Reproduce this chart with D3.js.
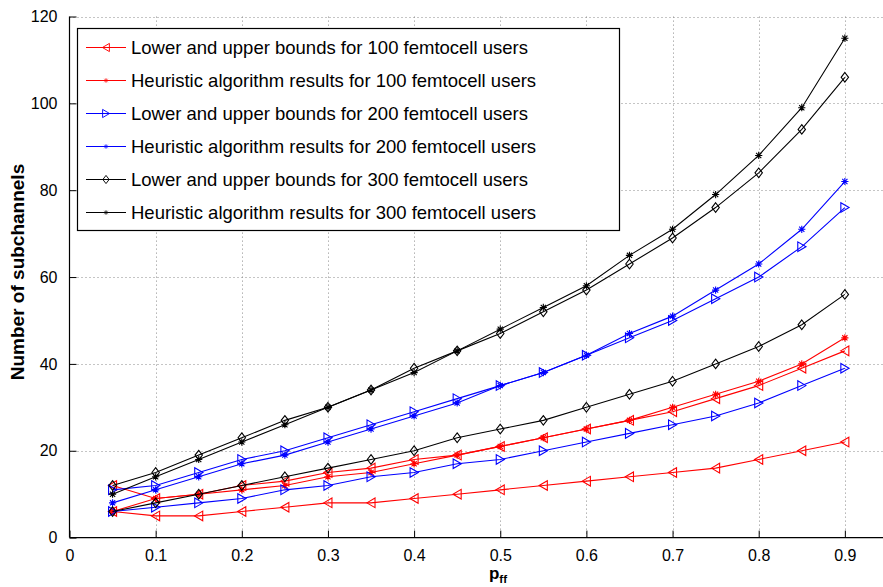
<!DOCTYPE html>
<html>
<head>
<meta charset="utf-8">
<script src="https://cdn.jsdelivr.net/npm/d3@7"></script>
<style>
  html, body { margin: 0; padding: 0; background: #fff; }
  svg { display: block; font-family: "Liberation Sans", Arial, Helvetica, sans-serif; }
</style>
</head>
<body>
<svg id="chart" width="883" height="587"></svg>
<script>
// Probability of femto-to-femto interference (x axis)
const pff = [0.05, 0.1, 0.15, 0.2, 0.25, 0.3, 0.35, 0.4, 0.45, 0.5, 0.55, 0.6, 0.65, 0.7, 0.75, 0.8, 0.85, 0.9];

// 100 femtocell users
const lower100 = [6, 5, 5, 6, 7, 8, 8, 9, 10, 11, 12, 13, 14, 15, 16, 18, 20, 22];
const upper100 = [12, 9, 10, 12, 13, 15, 16, 18, 19, 21, 23, 25, 27, 29, 32, 35, 39, 43];
const heuristic100 = [6, 9, 10, 11, 12, 14, 15, 17, 19, 21, 23, 25, 27, 30, 33, 36, 40, 46];

// 200 femtocell users
const lower200 = [6, 7, 8, 9, 11, 12, 14, 15, 17, 18, 20, 22, 24, 26, 28, 31, 35, 39];
const upper200 = [11, 12, 15, 18, 20, 23, 26, 29, 32, 35, 38, 42, 46, 50, 55, 60, 67, 76];
const heuristic200 = [8, 11, 14, 17, 19, 22, 25, 28, 31, 35, 38, 42, 47, 51, 57, 63, 71, 82];

// 300 femtocell users
const lower300 = [6, 8, 10, 12, 14, 16, 18, 20, 23, 25, 27, 30, 33, 36, 40, 44, 49, 56];
const upper300 = [12, 15, 19, 23, 27, 30, 34, 39, 43, 47, 52, 57, 63, 69, 76, 84, 94, 106];
const heuristic300 = [10, 14, 18, 22, 26, 30, 34, 38, 43, 48, 53, 58, 65, 71, 79, 88, 99, 115];

const xTicks = [0, 0.1, 0.2, 0.3, 0.4, 0.5, 0.6, 0.7, 0.8, 0.9];
const yTicks = [0, 20, 40, 60, 80, 100, 120];

const legendLabels = [
  "Lower and upper bounds for 100 femtocell users",
  "Heuristic algorithm results for 100 femtocell users",
  "Lower and upper bounds for 200 femtocell users",
  "Heuristic algorithm results for 200 femtocell users",
  "Lower and upper bounds for 300 femtocell users",
  "Heuristic algorithm results for 300 femtocell users"
];

// Each series: colour, marker and one or more lines
const series = [
  { color: "#ff0000", marker: "triLeft", lines: [lower100, upper100] },
  { color: "#ff0000", marker: "star", lines: [heuristic100] },
  { color: "#0000ff", marker: "triRight", lines: [lower200, upper200] },
  { color: "#0000ff", marker: "star", lines: [heuristic200] },
  { color: "#000000", marker: "diamond", lines: [lower300, upper300] },
  { color: "#000000", marker: "star", lines: [heuristic300] }
];

const W = 883, H = 587;
const svg = d3.select("#chart");

const x = d3.scaleLinear().domain([0, 1]).range([69.5, 931]);
const y = d3.scaleLinear().domain([0, 120]).range([537.6, 16.5]);

// Marker shapes as path strings centred at origin
const markerPath = {
  triLeft: "M-4.2,0L4,-4.8L4,4.8Z",
  triRight: "M4.2,0L-4,-4.8L-4,4.8Z",
  diamond: "M0,-4.8L3.7,0L0,4.8L-3.7,0Z",
  star: "M-3.6,0H3.6M0,-3.6V3.6M-2.6,-2.6L2.6,2.6M-2.6,2.6L2.6,-2.6"
};

// Grid lines (dotted)
const grid = svg.append("g").attr("stroke", "#8a8a8a").attr("stroke-width", 1)
  .attr("stroke-dasharray", "1,3");
grid.selectAll(".gx").data(xTicks.filter(d => d > 0)).join("line")
  .attr("x1", d => Math.round(x(d)) + 0.5).attr("x2", d => Math.round(x(d)) + 0.5)
  .attr("y1", y(0)).attr("y2", y(120));
grid.selectAll(".gy").data(yTicks.filter(d => d > 0)).join("line")
  .attr("x1", x(0)).attr("x2", W)
  .attr("y1", d => Math.round(y(d)) + 0.5).attr("y2", d => Math.round(y(d)) + 0.5);

// Axes
const xAxis = d3.axisBottom(x).tickValues(xTicks).tickSizeInner(-7).tickSizeOuter(0)
  .tickPadding(12).tickFormat(d => d === 0 ? "0" : d3.format(".1f")(d));
const gx = svg.append("g").attr("transform", `translate(0,${y(0)})`).call(xAxis);
gx.select(".domain").remove();
gx.append("line").attr("x1", x(0)).attr("x2", W).attr("y1", 0).attr("y2", 0)
  .attr("stroke", "#000").attr("stroke-width", 1.2);
gx.selectAll("text").attr("font-size", 16).attr("fill", "#000")
  .attr("font-family", "'Liberation Sans', Arial, sans-serif");

const yAxis = d3.axisLeft(y).tickValues(yTicks).tickSizeInner(-7).tickSizeOuter(0).tickPadding(12);
const gy = svg.append("g").attr("transform", `translate(${x(0)},0)`).call(yAxis);
gy.select(".domain").remove();
gy.append("line").attr("x1", 0).attr("x2", 0).attr("y1", y(0)).attr("y2", y(120))
  .attr("stroke", "#000").attr("stroke-width", 1.2);
gy.selectAll("text").attr("font-size", 16).attr("fill", "#000")
  .attr("font-family", "'Liberation Sans', Arial, sans-serif");

// Axis titles
svg.append("text")
  .attr("transform", `translate(24,272) rotate(-90)`)
  .attr("text-anchor", "middle").attr("font-weight", "bold").attr("font-size", 19)
  .text("Number of subchannels");
const xl = svg.append("text").attr("x", 498).attr("y", 579)
  .attr("text-anchor", "middle").attr("font-weight", "bold").attr("font-size", 17);
xl.append("tspan").text("p");
xl.append("tspan").attr("font-size", 11.5).attr("dy", 4).text("ff");

// Data lines and markers
const lineGen = d3.line().x((d, i) => x(pff[i])).y(d => y(d));
const plot = svg.append("g");
series.forEach(s => {
  s.lines.forEach(vals => {
    const g = plot.append("g");
    g.append("path").attr("d", lineGen(vals)).attr("fill", "none")
      .attr("stroke", s.color).attr("stroke-width", 1.1);
    g.selectAll("path.m").data(vals).join("path").attr("class", "m")
      .attr("transform", (d, i) => `translate(${x(pff[i])},${y(d)})`)
      .attr("d", markerPath[s.marker])
      .attr("fill", "none").attr("stroke", s.color).attr("stroke-width", 1.1);
  });
});

// Legend
const leg = svg.append("g");
leg.append("rect").attr("x", 77.5).attr("y", 28.5).attr("width", 542).attr("height", 202)
  .attr("fill", "#fff").attr("stroke", "#000").attr("stroke-width", 1.2);
const rowY = d3.scaleLinear().domain([0, 5]).range([47.5, 212.5]);
legendLabels.forEach((label, i) => {
  const s = series[i];
  const cy = rowY(i);
  leg.append("line").attr("x1", 86).attr("x2", 126).attr("y1", cy).attr("y2", cy)
    .attr("stroke", s.color).attr("stroke-width", 1.1);
  const sc = s.marker === "star" ? 0.65 : 0.85;
  leg.append("path").attr("transform", `translate(106,${cy}) scale(${sc})`)
    .attr("d", markerPath[s.marker]).attr("fill", "none")
    .attr("stroke", s.color).attr("stroke-width", 1.1);
  leg.append("text").attr("x", 131).attr("y", cy).attr("dy", "0.36em")
    .attr("font-size", 18.5).attr("fill", "#000").text(label);
});
</script>
</body>
</html>
